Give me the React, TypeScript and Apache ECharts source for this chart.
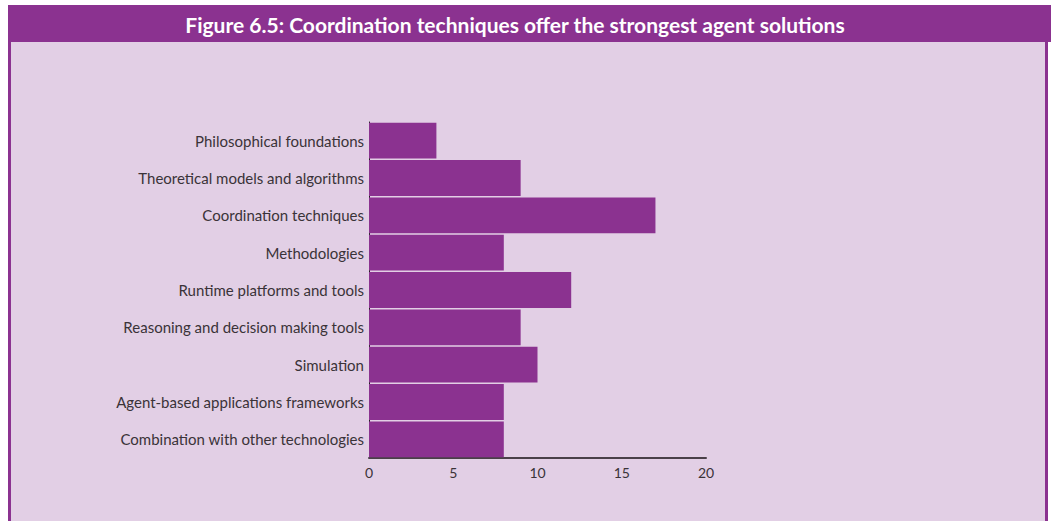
import React, { useEffect, useRef } from "react";
import * as echarts from "echarts";

const categories = [
  "Philosophical foundations",
  "Theoretical models and algorithms",
  "Coordination techniques",
  "Methodologies",
  "Runtime platforms and tools",
  "Reasoning and decision making tools",
  "Simulation",
  "Agent-based applications frameworks",
  "Combination with other technologies",
];
const values = [4, 9, 17, 8, 12, 9, 10, 8, 8];
const xTicks = [0, 5, 10, 15, 20];
const title = "Figure 6.5: Coordination techniques offer the strongest agent solutions";

const PURPLE = "#8B3290";
const PANEL = "#E2CFE5";

export default function App() {
  const ref = useRef<HTMLDivElement>(null);
  useEffect(() => {
    if (!ref.current) return;
    const chart = echarts.init(ref.current, null, { renderer: "svg" });
    chart.setOption({
      animation: false,
      backgroundColor: "#ffffff",
      graphic: [
        { type: "rect", shape: { x: 8, y: 5, width: 1043, height: 37 }, style: { fill: PURPLE }, z: -10 },
        { type: "rect", shape: { x: 8, y: 42, width: 1040, height: 479 }, style: { fill: PURPLE }, z: -10 },
        { type: "rect", shape: { x: 11, y: 42, width: 1034, height: 479 }, style: { fill: PANEL }, z: -9 },
        {
          type: "text",
          x: 515,
          y: 24,
          style: {
            text: title,
            fill: "#ffffff",
            font: "bold 21px Lato, 'Open Sans', sans-serif",
            align: "center",
            verticalAlign: "middle",
          },
          z: -8,
        },
      ],
      grid: { left: 369, width: 337, top: 122, height: 336, containLabel: false },
      xAxis: {
        type: "value",
        min: 0,
        max: 20,
        interval: 5,
        axisLine: { show: true, lineStyle: { color: "#4a4048", width: 2 } },
        axisTick: { show: false },
        splitLine: { show: false },
        axisLabel: {
          color: "#3a3338",
          fontFamily: "Lato, sans-serif",
          fontSize: 14,
          margin: 7,
          formatter: (v: number) => (xTicks.includes(v) ? String(v) : ""),
        },
      },
      yAxis: {
        type: "category",
        data: categories,
        inverse: true,
        axisLine: { show: true, lineStyle: { color: "#222222", width: 1 } },
        axisTick: { show: false },
        axisLabel: {
          color: "#3a3338",
          fontFamily: "Lato, sans-serif",
          fontSize: 15,
          margin: 5,
        },
      },
      series: [
        {
          type: "bar",
          data: values,
          barCategoryGap: "4%",
          itemStyle: { color: PURPLE },
        },
      ],
    });
    return () => chart.dispose();
  }, []);
  return (
    <div
      ref={ref}
      style={{ position: "absolute", left: 0, top: 0, width: 1051, height: 521 }}
    />
  );
}
